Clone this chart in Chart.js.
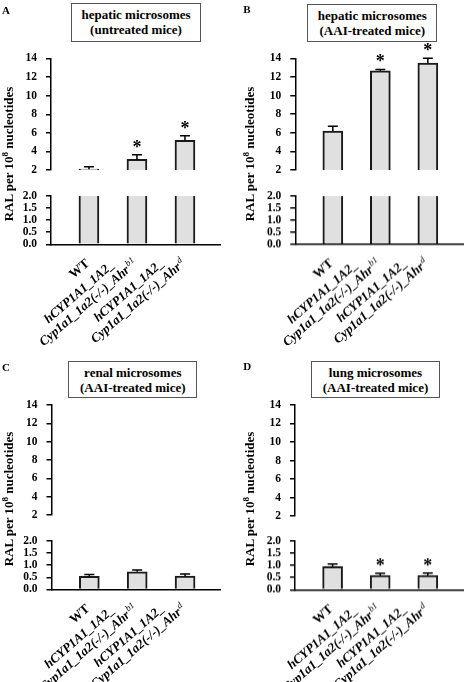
<!DOCTYPE html>
<html>
<head>
<meta charset="utf-8">
<script src="https://cdn.jsdelivr.net/npm/chart.js@4.4.1/dist/chart.umd.min.js"></script>
<style>
  html, body { margin: 0; padding: 0; background: #fff; }
  #figure { position: relative; width: 465px; height: 682px; overflow: hidden; font-family: 'Liberation Serif', 'Times New Roman', serif; color: #000; }
  .panel { position: absolute; overflow: hidden; }
  .panel canvas { position: absolute; left: 0; }
  .letter { position: absolute; font-weight: bold; font-size: 11px; line-height: 11px; }
  .titlebox { position: absolute; box-sizing: border-box; border: 1.5px solid #555; font-weight: bold; font-size: 13px; line-height: 15px; text-align: center; padding-top: 3px; background: #fff; }
  .ytitle { position: absolute; white-space: nowrap; font-weight: bold; font-size: 13px; line-height: 14px; transform: translate(-50%, -50%) rotate(-90deg); }
  .ytitle sup { font-size: 9px; line-height: 0; }
</style>
</head>
<body>
<div id="figure"></div>
<script>
// x categories, '^' starts a superscript
const genotypes = [
    ['WT'],
    ['hCYP1A1_1A2_', 'Cyp1a1_1a2(-/-)_Ahr^b1'],
    ['hCYP1A1_1A2_', 'Cyp1a1_1a2(-/-)_Ahr^d']
];

// broken y axis: upper and lower segments
const upperTicks = [2, 4, 6, 8, 10, 12, 14];
const lowerTicks = [0, 0.5, 1, 1.5, 2];

// RAL per 10^8 nucleotides (mean, error, significance)
const hepaticUntreated = [2.1, 3.15, 5.2];
const hepaticUntreatedErr = [0.25, 0.5, 0.5];
const hepaticUntreatedSig = [false, true, true];

const hepaticAAI = [6.2, 12.65, 13.5];
const hepaticAAIErr = [0.5, 0.15, 0.5];
const hepaticAAISig = [false, true, true];

const renalAAI = [0.54, 0.73, 0.55];
const renalAAIErr = [0.08, 0.07, 0.09];
const renalAAISig = [false, false, false];

const lungAAI = [0.95, 0.59, 0.59];
const lungAAIErr = [0.11, 0.08, 0.09];
const lungAAISig = [false, true, true];

const serif = "'Liberation Serif', 'Times New Roman', serif";
const labelAngle = 41 * Math.PI / 180;
const labelLineHeight = 14;

const panels = [
    { letter: 'A', title: ['hepatic microsomes', '(untreated mice)'],
      values: hepaticUntreated, errors: hepaticUntreatedErr, sig: hepaticUntreatedSig,
      left: 0, top: 0, width: 232, height: 345,
      axisX: 51, axisEnd: 220.5, yTop: 58.5, yBreak: 177, yLowTop: 189, yZero: 244.3,
      box: [71, 3.3, 130, 39], letterPos: [2, 5], yTitleX: 9 },
    { letter: 'B', title: ['hepatic microsomes', '(AAI-treated mice)'],
      values: hepaticAAI, errors: hepaticAAIErr, sig: hepaticAAISig,
      left: 232, top: 0, width: 233, height: 345,
      axisX: 63.3, axisEnd: 231, yTop: 58.3, yBreak: 177.3, yLowTop: 189.3, yZero: 244.7,
      box: [75.3, 4, 130, 38.3], letterPos: [11.3, 4], yTitleX: 18 },
    { letter: 'C', title: ['renal microsomes', '(AAI-treated mice)'],
      values: renalAAI, errors: renalAAIErr, sig: renalAAISig,
      left: 0, top: 345, width: 232, height: 337,
      axisX: 51.5, axisEnd: 220.5, yTop: 60, yBreak: 177.3, yLowTop: 189, yZero: 244.5,
      box: [68.3, 15.7, 129, 37.3], letterPos: [2, 16.5], yTitleX: 8.5 },
    { letter: 'D', title: ['lung microsomes', '(AAI-treated mice)'],
      values: lungAAI, errors: lungAAIErr, sig: lungAAISig,
      left: 232, top: 345, width: 233, height: 337,
      axisX: 63, axisEnd: 231, yTop: 60, yBreak: 178, yLowTop: 189.3, yZero: 245.3,
      box: [78.7, 15.7, 129.6, 37.3], letterPos: [11.3, 16], yTitleX: 18 }
];

Chart.defaults.font.family = serif;
Chart.defaults.color = '#000';

/* error bars and asterisks, drawn on the segment that holds the bar top */
const barMarks = {
    id: 'barMarks',
    afterDatasetsDraw(chart, args, opts) {
        const { ctx, scales: { x, y } } = chart;
        ctx.save();
        ctx.strokeStyle = '#000';
        ctx.fillStyle = '#000';
        ctx.lineWidth = 1.5;
        opts.values.forEach((v, i) => {
            if (!(v > y.min && v <= y.max)) return;
            const cx = x.getPixelForValue(i);
            const yBar = y.getPixelForValue(v);
            const yErr = y.getPixelForValue(v + opts.errors[i]);
            ctx.beginPath();
            ctx.moveTo(cx, yBar);
            ctx.lineTo(cx, yErr);
            ctx.moveTo(cx - 5, yErr);
            ctx.lineTo(cx + 5, yErr);
            ctx.stroke();
            if (opts.sig[i]) {
                ctx.font = `bold 18px ${serif}`;
                ctx.textAlign = 'center';
                ctx.textBaseline = 'alphabetic';
                ctx.fillText('*', cx, yErr - 2);
            }
        });
        ctx.restore();
    }
};

function lineParts(line) {
    const [main, sup] = line.split('^');
    return { main, sup: sup || '' };
}

/* rotated, centre-aligned genotype labels under the lower segment */
const genotypeLabels = {
    id: 'genotypeLabels',
    afterDraw(chart) {
        const { ctx, chartArea, scales: { x } } = chart;
        genotypes.forEach((lines, i) => {
            const italic = lines.length > 1;
            const mainFont = `${italic ? 'italic ' : ''}bold 13px ${serif}`;
            const supFont = `italic 9px ${serif}`;
            ctx.save();
            ctx.translate(x.getPixelForValue(i) + 3, chartArea.bottom + 22.5);
            ctx.rotate(-labelAngle);
            const widths = lines.map(l => {
                const p = lineParts(l);
                ctx.font = mainFont;
                let w = ctx.measureText(p.main).width;
                if (p.sup) {
                    ctx.font = supFont;
                    w += ctx.measureText(p.sup).width + 1;
                }
                return w;
            });
            const maxW = Math.max(...widths);
            ctx.fillStyle = '#000';
            ctx.textAlign = 'left';
            ctx.textBaseline = 'alphabetic';
            lines.forEach((l, k) => {
                const p = lineParts(l);
                const base = -(lines.length - 1 - k) * labelLineHeight - 3;
                let cx = -maxW / 2 - widths[k] / 2;
                ctx.font = mainFont;
                ctx.fillText(p.main, cx, base);
                if (p.sup) {
                    cx += ctx.measureText(p.main).width + 1;
                    ctx.font = supFont;
                    ctx.fillText(p.sup, cx, base - 5);
                }
            });
            ctx.restore();
        });
    }
};

function yScale(p, ticks, fmt) {
    return {
        min: ticks[0],
        max: ticks[ticks.length - 1],
        afterBuildTicks: scale => { scale.ticks = ticks.map(value => ({ value })); },
        afterFit: scale => { scale.width = p.axisX; },
        border: { display: true, color: '#000', width: 1.5 },
        grid: { drawOnChartArea: false, drawTicks: true, tickLength: 5, color: '#000', lineWidth: 1.5 },
        ticks: { padding: 9, autoSkip: false, font: { size: 11.5, weight: 'bold' }, callback: fmt }
    };
}

function xScale(showLine) {
    return {
        type: 'linear',
        display: showLine,
        min: -0.79,
        max: 2.74,
        offset: false,
        afterBuildTicks: scale => { scale.ticks = genotypes.map((g, i) => ({ value: i })); },
        border: { display: true, color: '#000', width: 1.5 },
        grid: { display: false, drawTicks: false },
        ticks: { display: false }
    };
}

const figure = document.getElementById('figure');

function addCanvas(panelDiv, top, width, height) {
    const c = document.createElement('canvas');
    c.width = width;
    c.height = height;
    c.style.top = top + 'px';
    c.style.width = width + 'px';
    c.style.height = height + 'px';
    panelDiv.appendChild(c);
    return c;
}

panels.forEach(p => {
    const div = document.createElement('div');
    div.className = 'panel';
    div.style.left = p.left + 'px';
    div.style.top = p.top + 'px';
    div.style.width = p.width + 'px';
    div.style.height = p.height + 'px';
    figure.appendChild(div);

    const upperH = p.yBreak + 9;
    const lowerTop = p.yLowTop - 9;
    const lowerH = p.height - lowerTop;
    const upperCanvas = addCanvas(div, 0, p.width, upperH);
    const lowerCanvas = addCanvas(div, lowerTop, p.width, lowerH);

    const common = {
        responsive: false,
        animation: false,
        events: [],
        plugins: {
            legend: { display: false },
            tooltip: { enabled: false },
            barMarks: { values: p.values, errors: p.errors, sig: p.sig }
        }
    };

    // upper segment, 2..14
    new Chart(upperCanvas, {
        type: 'bar',
        data: {
            datasets: [{
                data: p.values.map((v, i) => ({ x: i, y: [2, v] })).filter(d => d.y[1] > 2),
                backgroundColor: '#e0e0e0',
                borderColor: '#1a1a1a',
                borderWidth: { left: 2, right: 2, top: 2, bottom: 0 },
                borderSkipped: false,
                barThickness: 20
            }]
        },
        options: Object.assign({}, common, {
            layout: { padding: { top: p.yTop, bottom: 9, left: 0, right: p.width - p.axisEnd } },
            scales: {
                x: xScale(false),
                y: yScale(p, upperTicks, v => v)
            }
        }),
        plugins: [barMarks]
    });

    // lower segment, 0..2
    new Chart(lowerCanvas, {
        type: 'bar',
        data: {
            datasets: [{
                data: p.values.map((v, i) => ({ x: i, y: Math.min(v, 2) })),
                backgroundColor: '#e0e0e0',
                borderColor: '#1a1a1a',
                borderWidth: ctx => p.values[ctx.dataIndex] > 2
                    ? { left: 2, right: 2, top: 0, bottom: 0 }
                    : { left: 2, right: 2, top: 2, bottom: 0 },
                borderSkipped: false,
                barThickness: 20
            }]
        },
        options: Object.assign({}, common, {
            layout: { padding: { top: 9, bottom: lowerH - (p.yZero - lowerTop), left: 0, right: p.width - p.axisEnd } },
            scales: {
                x: xScale(true),
                y: yScale(p, lowerTicks, v => Number(v).toFixed(1))
            }
        }),
        plugins: [barMarks, genotypeLabels]
    });

    const letter = document.createElement('div');
    letter.className = 'letter';
    letter.style.left = p.letterPos[0] + 'px';
    letter.style.top = p.letterPos[1] + 'px';
    letter.textContent = p.letter;
    div.appendChild(letter);

    const box = document.createElement('div');
    box.className = 'titlebox';
    box.style.left = p.box[0] + 'px';
    box.style.top = p.box[1] + 'px';
    box.style.width = p.box[2] + 'px';
    box.style.height = p.box[3] + 'px';
    box.innerHTML = p.title.join('<br>');
    div.appendChild(box);

    const yt = document.createElement('div');
    yt.className = 'ytitle';
    yt.style.left = p.yTitleX + 'px';
    yt.style.top = '154px';
    yt.innerHTML = 'RAL per 10<sup>8</sup> nucleotides';
    div.appendChild(yt);
});
</script>
</body>
</html>
